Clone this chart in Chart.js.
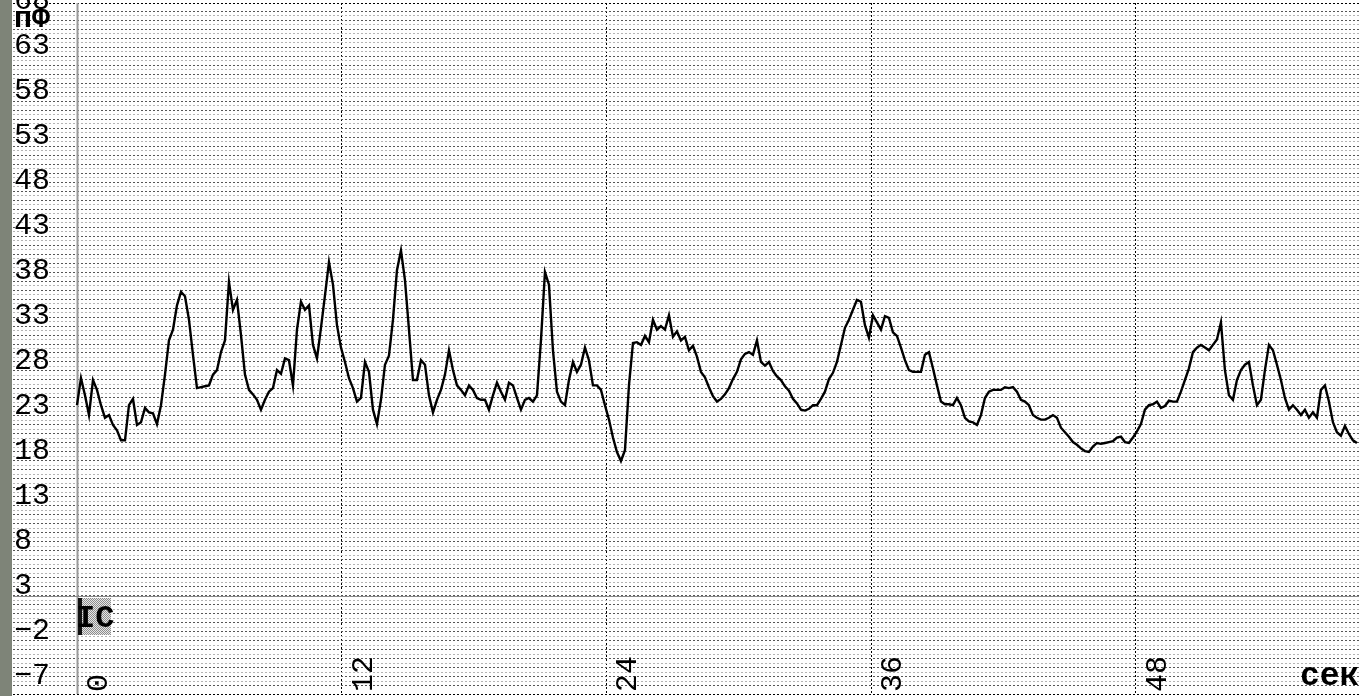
<!DOCTYPE html>
<html>
<head>
<meta charset="utf-8">
<style>
  html, body { margin: 0; padding: 0; background: #fff; overflow: hidden; }
  canvas { display: block; }
</style>
<script src="https://cdn.jsdelivr.net/npm/chart.js@4.4.1/dist/chart.umd.min.js"></script>
</head>
<body>
<canvas id="c" width="1359" height="696"></canvas>
<script>
// Capacitance record, one reading per sample step
const SAMPLE_STEP = 0.1813; // seconds between readings
const capacitance = [
  24.2, 27.2, 25.3, 23.1, 27.0, 25.9, 24.2, 22.8, 23.1, 22.0,
  21.4, 20.3, 20.3, 24.2, 24.9, 22.0, 22.3, 23.9, 23.4, 23.3,
  22.1, 24.2, 27.6, 31.4, 32.6, 35.3, 36.8, 36.3, 33.7, 29.8,
  26.1, 26.2, 26.3, 26.4, 27.6, 28.1, 30.1, 31.4, 37.9, 34.8,
  35.9, 32.0, 27.6, 25.9, 25.4, 24.8, 23.7, 24.8, 25.7, 26.1,
  28.1, 27.7, 29.4, 29.2, 26.4, 32.6, 35.7, 34.8, 35.3, 30.9,
  29.4, 32.8, 36.4, 40.1, 37.6, 33.1, 30.6, 29.0, 27.2, 26.1,
  24.6, 25.0, 29.0, 27.9, 23.7, 22.1, 24.8, 28.7, 29.7, 33.7,
  39.2, 41.4, 38.1, 32.6, 27.0, 27.0, 29.2, 28.7, 25.3, 23.4,
  24.8, 25.9, 27.6, 30.3, 28.1, 26.4, 25.9, 25.3, 26.4, 25.9,
  25.0, 24.8, 24.8, 23.7, 25.3, 26.7, 25.7, 24.8, 26.7, 26.4,
  25.0, 23.7, 24.8, 25.0, 24.6, 25.3, 31.4, 39.0, 37.6, 30.3,
  25.7, 24.6, 24.2, 27.0, 29.0, 27.9, 28.7, 30.6, 29.2, 26.4,
  26.4, 25.9, 24.2, 22.6, 20.6, 19.0, 18.0, 19.2, 26.4, 31.1,
  31.2, 30.9, 31.9, 31.2, 33.7, 32.6, 33.0, 32.6, 34.2, 31.8,
  32.4, 31.4, 31.8, 30.3, 30.8, 29.6, 27.9, 27.3, 26.2, 25.2,
  24.6, 24.9, 25.4, 26.1, 27.1, 27.9, 29.3, 29.9, 30.1, 29.8,
  31.4, 29.0, 28.6, 29.0, 28.0, 27.4, 27.0, 26.3, 25.8, 24.9,
  24.4, 23.7, 23.6, 23.8, 24.2, 24.2, 24.9, 25.7, 27.1, 27.8,
  29.0, 30.9, 32.8, 33.7, 34.8, 35.9, 35.7, 33.1, 31.7, 34.2,
  33.4, 32.6, 34.1, 33.9, 32.3, 31.9, 30.6, 29.2, 28.1, 27.9,
  27.9, 27.9, 29.8, 30.1, 28.3, 26.4, 24.6, 24.3, 24.3, 24.2,
  25.0, 24.2, 22.8, 22.4, 22.3, 22.0, 23.1, 25.0, 25.7, 25.9,
  25.9, 25.9, 26.2, 26.1, 26.2, 25.7, 24.8, 24.6, 24.2, 23.1,
  22.8, 22.6, 22.6, 22.8, 23.1, 22.8, 21.7, 21.2, 20.7, 20.1,
  19.8, 19.4, 19.1, 19.0, 19.6, 20.0, 19.9, 20.0, 20.1, 20.2,
  20.6, 20.7, 20.1, 20.0, 20.6, 21.3, 22.1, 23.7, 24.2, 24.3,
  24.6, 23.9, 24.1, 24.7, 24.6, 24.6, 25.7, 27.0, 28.3, 30.1,
  30.6, 30.9, 30.6, 30.3, 30.9, 31.5, 33.4, 28.1, 25.3, 24.8,
  27.0, 28.1, 28.7, 29.0, 26.4, 24.2, 24.8, 28.1, 30.9, 30.3,
  28.7, 27.0, 25.0, 23.7, 24.2, 23.7, 23.1, 23.7, 22.8, 23.4,
  22.8, 25.9, 26.4, 24.6, 22.3, 21.2, 20.8, 21.9, 21.0, 20.3,
  20.0
];
const timeTicks = [0, 12, 24, 36, 48];
const valueTicks = [-7, -2, 3, 8, 13, 18, 23, 28, 33, 38, 43, 48, 53, 58, 63, 68];
const valueUnit = 'пФ';
const timeUnit = 'сек';
const markerText = 'IC';

const points = capacitance.map((v, i) => ({ x: i * SAMPLE_STEP, y: v }));

const FONT = '"Liberation Mono", "Courier New", monospace';

// Frame, labels and the marker box drawn on top of the Chart.js scales
const recorderDecor = {
  id: 'recorderDecor',
  beforeDraw(chart) {
    const ctx = chart.ctx;
    ctx.save();
    ctx.fillStyle = '#fff';
    ctx.fillRect(0, 0, chart.width, chart.height);
    ctx.fillStyle = '#7e8478';
    ctx.fillRect(0, 0, 12, chart.height);
    ctx.restore();
  },
  beforeDatasetsDraw(chart) {
    const ctx = chart.ctx;
    const xs = chart.scales.x, ys = chart.scales.y;
    const area = chart.chartArea;
    ctx.save();
    // solid time origin
    const x0 = Math.round(xs.getPixelForValue(0)) + 0.5;
    ctx.strokeStyle = '#9a9a9a';
    ctx.lineWidth = 2;
    ctx.beginPath();
    ctx.moveTo(x0, area.top);
    ctx.lineTo(x0, area.bottom);
    ctx.stroke();
    // solid baseline at 3
    const yb = Math.round(ys.getPixelForValue(3)) + 0.5;
    ctx.strokeStyle = '#8a8a8a';
    ctx.lineWidth = 1;
    ctx.beginPath();
    ctx.moveTo(area.left, yb);
    ctx.lineTo(area.right, yb);
    ctx.stroke();
    ctx.restore();
  },
  afterDraw(chart) {
    const ctx = chart.ctx;
    const xs = chart.scales.x, ys = chart.scales.y;
    ctx.save();
    ctx.fillStyle = '#000';
    ctx.textAlign = 'left';
    ctx.textBaseline = 'alphabetic';

    // value labels sitting on their grid lines
    ctx.font = '30px ' + FONT;
    valueTicks.forEach(v => {
      const y = ys.getPixelForValue(v) - 2;
      ctx.fillText(String(v).replace('-', '\u2212'), 14, y);
    });

    // value unit
    ctx.font = 'bold 30px ' + FONT;
    ctx.fillText(valueUnit, 14, 27);

    // time labels, rotated
    ctx.font = '30px ' + FONT;
    timeTicks.forEach(t => {
      const x = xs.getPixelForValue(t);
      ctx.save();
      ctx.translate(x + 30, 692);
      ctx.rotate(-Math.PI / 2);
      ctx.fillText(String(t), 0, 0);
      ctx.restore();
    });

    // time unit
    ctx.font = 'bold 33px ' + FONT;
    ctx.fillText(timeUnit, 1300, 685);

    // marker box at the start of the record
    const mx = Math.round(xs.getPixelForValue(0)) + 1;
    const my = Math.round(ys.getPixelForValue(3)) + 2;
    const pat = document.createElement('canvas');
    pat.width = 2; pat.height = 2;
    const pc = pat.getContext('2d');
    pc.fillStyle = '#e6e6e6'; pc.fillRect(0, 0, 2, 2);
    pc.fillStyle = '#8c8c8c'; pc.fillRect(0, 0, 1, 1); pc.fillRect(1, 1, 1, 1);
    ctx.fillStyle = ctx.createPattern(pat, 'repeat');
    ctx.fillRect(mx, my, 33, 37);
    ctx.fillStyle = '#111';
    ctx.fillRect(mx, my, 4, 37);
    ctx.font = 'bold 32px ' + FONT;
    ctx.fillStyle = '#000';
    ctx.fillText(markerText, mx - 2, my + 29);
    ctx.restore();
  }
};

new Chart(document.getElementById('c'), {
  type: 'line',
  data: {
    datasets: [{
      data: points,
      borderColor: '#000',
      borderWidth: 2.4,
      pointRadius: 0,
      tension: 0,
      fill: false
    }]
  },
  options: {
    responsive: false,
    animation: false,
    devicePixelRatio: 1,
    layout: { padding: { left: 13, right: 0, top: 3, bottom: 2 } },
    plugins: { legend: { display: false }, tooltip: { enabled: false } },
    scales: {
      x: {
        type: 'linear',
        min: -2.90,
        max: 58.11,
        afterFit: s => { s.height = 0; },
        ticks: { display: false, stepSize: 12 },
        border: { display: false, dash: [2, 2] },
        grid: {
          drawTicks: false,
          lineWidth: 1,
          color: c => (timeTicks.includes(c.tick.value) && c.tick.value !== 0) ? '#000' : 'rgba(0,0,0,0)'
        }
      },
      y: {
        type: 'linear',
        min: -7.9,
        max: 68.9,
        afterFit: s => { s.width = 0; },
        ticks: { display: false, stepSize: 0.5 },
        border: { display: false, dash: [2, 2] },
        grid: {
          drawTicks: false,
          lineWidth: 1,
          color: c => {
            const v = c.tick.value;
            if (v === -7.9 || v === 68.9) return '#000';
            return Number.isInteger(v) ? '#555' : '#b4b4b4';
          }
        }
      }
    }
  },
  plugins: [recorderDecor]
});
</script>
</body>
</html>
